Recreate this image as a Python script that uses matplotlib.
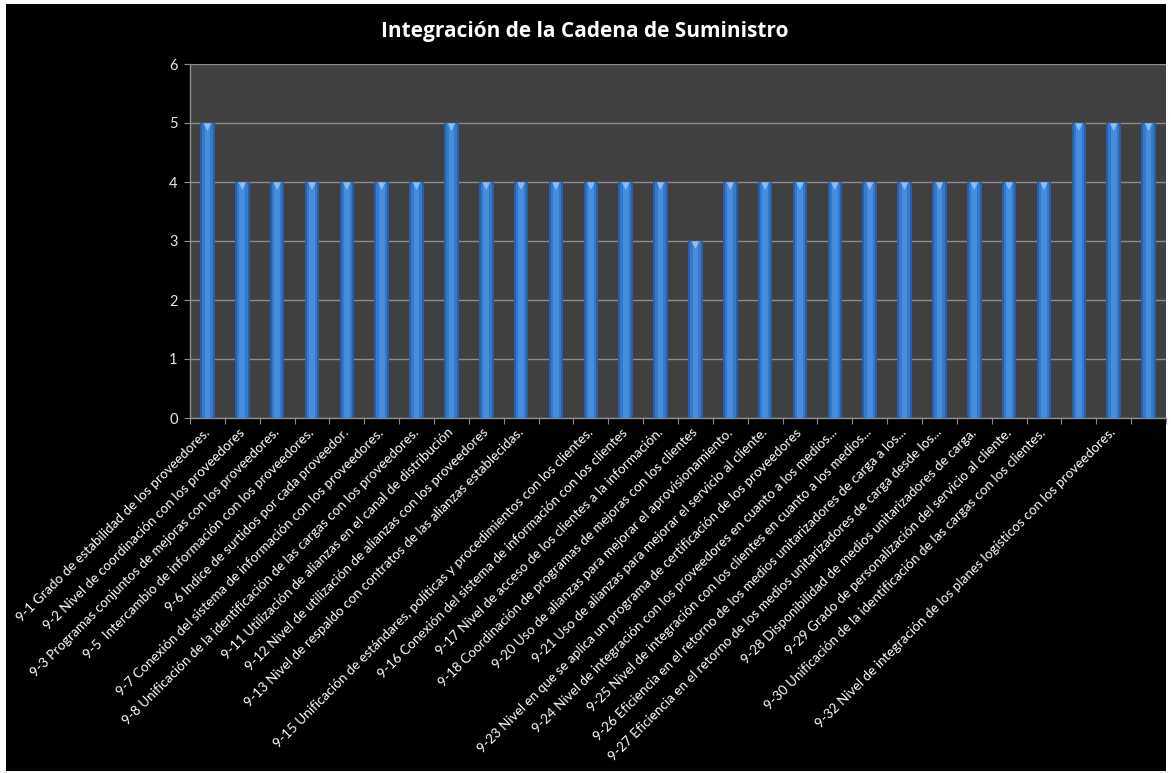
import numpy as np
import matplotlib
matplotlib.use("Agg")
import matplotlib.pyplot as plt
from matplotlib.patches import Rectangle

plt.rcParams['font.family'] = ['Lato', 'DejaVu Sans']

# data
title = "Integración de la Cadena de Suministro"
labels = [
    "9-1 Grado de estabilidad de los proveedores.",
    "9-2 Nivel de coordinación con los proveedores",
    "9-3 Programas conjuntos de mejoras con los proveedores.",
    "9-5  Intercambio de información con los proveedores.",
    "9-6 Indice de surtidos por cada proveedor.",
    "9-7 Conexión del sistema de información con los proveedores.",
    "9-8 Unificación de la identificación de las cargas con los proveedores.",
    "9-11 Utilización de alianzas en el canal de distribución",
    "9-12 Nivel de utilización de alianzas con los proveedores",
    "9-13 Nivel de respaldo con contratos de las alianzas establecidas.",
    "",
    "9-15 Unificación de estándares, políticas y procedimientos con los clientes.",
    "9-16 Conexión del sistema de información con los clientes",
    "9-17 Nivel de acceso de los clientes a la información.",
    "9-18 Coordinación de programas de mejoras con los clientes",
    "9-20 Uso de alianzas para mejorar el aprovisionamiento.",
    "9-21 Uso de alianzas para mejorar el servicio al cliente.",
    "9-23 Nivel en que se aplica un programa de certificación de los proveedores",
    "9-24 Nivel de integración con los proveedores en cuanto a los medios...",
    "9-25 Nivel de integración con los clientes en cuanto a los medios...",
    "9-26 Eficiencia en el retorno de los medios unitarizadores de carga a los...",
    "9-27 Eficiencia en el retorno de los medios unitarizadores de carga desde los...",
    "9-28 Disponibilidad de medios unitarizadores de carga.",
    "9-29 Grado de personalización del servicio al cliente.",
    "9-30 Unificación de la identificación de las cargas con los clientes.",
    "",
    "9-32 Nivel de integración de los planes logísticos con los proveedores.",
    "",
]
values = [5, 4, 4, 4, 4, 4, 4, 5, 4, 4, 4, 4, 4, 4, 3,
          4, 4, 4, 4, 4, 4, 4, 4, 4, 4, 5, 5, 5]
yticks = [0, 1, 2, 3, 4, 5, 6]

W, H = 1171, 773
fig = plt.figure(figsize=(W / 100, H / 100), dpi=100, facecolor='white')
# black chart area (white margin around it like the original)
fig.add_artist(Rectangle((6 / W, 2 / H), 1160 / W, 767 / H,
                         transform=fig.transFigure, facecolor='black',
                         edgecolor='none', zorder=-10))

ax = fig.add_axes([190 / W, (H - 418) / H, 976 / W, 354 / H])
ax.set_facecolor('#404040')

x = np.arange(len(values))
# layered bars to fake the cylinder shading
ax.bar(x, values, width=0.42, color='#2a5ea6', zorder=3)
ax.bar(x, values, width=0.30, color='#3679cb', zorder=3)
ax.bar(x, values, width=0.16, color='#458ddf', zorder=3)
ax.scatter(x, np.array(values) - 0.07, marker='v', s=30, color='#8fbcf0',
           edgecolors='none', zorder=4)

ax.set_xlim(-0.5, len(values) - 0.5)
ax.set_ylim(0, 6)
ax.set_yticks(yticks)
ax.grid(axis='y', color='#8c8c8c', linewidth=1.0, zorder=1)
ax.set_axisbelow(True)

for side in ['top', 'right']:
    ax.spines[side].set_visible(False)
for side in ['left', 'bottom']:
    ax.spines[side].set_color('#8c8c8c')
    ax.spines[side].set_linewidth(1.0)

ax.tick_params(axis='y', colors='#8c8c8c', labelcolor='#e8e8e8',
               labelsize=10.5, length=4, pad=5)
# category ticks at boundaries, labels at centers
ax.set_xticks(np.arange(len(values) + 1) - 0.5)
ax.set_xticklabels([])
ax.tick_params(axis='x', which='major', colors='#8c8c8c', length=4)
ax.set_xticks(x, minor=True)
ax.set_xticklabels(labels, minor=True, rotation=45, ha='right',
                   va='center', rotation_mode='anchor',
                   fontsize=9.7, color='white')
ax.tick_params(axis='x', which='minor', length=0, pad=9)

fig.text(585 / W, 1 - 31 / H, title, ha='center', va='center',
         fontsize=15, fontweight='bold', color='white',
         family=['Open Sans', 'DejaVu Sans'])

fig.savefig('out.png', dpi=100, facecolor=fig.get_facecolor())
